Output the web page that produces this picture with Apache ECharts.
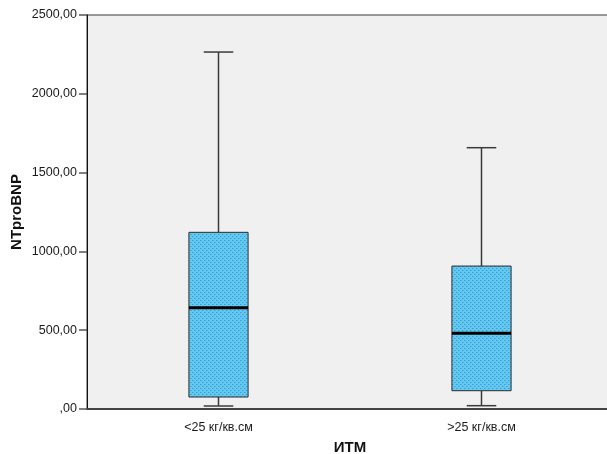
<!DOCTYPE html>
<html>
<head>
<meta charset="utf-8">
<script src="https://cdn.jsdelivr.net/npm/echarts@6/dist/echarts.min.js"></script>
<style>
  html, body { margin: 0; padding: 0; background: #ffffff; }
  #chart { width: 607px; height: 454px; }
</style>
</head>
<body>
<div id="chart"></div>
<script>
// BMI groups and NTproBNP five-number summaries
var categories = ['<25 кг/кв.см', '>25 кг/кв.см'];
var whiskerLow = [19, 21];
var q1 = [76, 116];
var median = [643, 480];
var q3 = [1121, 907];
var whiskerHigh = [2265, 1658];
var yTicks = [0, 500, 1000, 1500, 2000, 2500];

// dotted fill used for the boxes
function makePattern() {
  var c = document.createElement('canvas');
  c.width = 4; c.height = 4;
  var g = c.getContext('2d');
  g.fillStyle = '#62caf2';
  g.fillRect(0, 0, 4, 4);
  g.fillStyle = '#3f9ccd';
  g.fillRect(0, 0, 1, 1);
  g.fillRect(2, 2, 1, 1);
  g.fillStyle = '#52b5e2';
  g.fillRect(1, 0, 1, 1);
  g.fillRect(3, 2, 1, 1);
  return c;
}
var pattern = makePattern();

var seriesData = categories.map(function (c, i) {
  return [i, whiskerLow[i], q1[i], median[i], q3[i], whiskerHigh[i]];
});

function renderBox(params, api) {
  var idx = api.value(0);
  var lo = api.coord([idx, api.value(1)]);
  var b1 = api.coord([idx, api.value(2)]);
  var md = api.coord([idx, api.value(3)]);
  var b3 = api.coord([idx, api.value(4)]);
  var hi = api.coord([idx, api.value(5)]);
  var band = api.size([1, 0])[0];
  var w = band * 0.225;
  var cx = lo[0];
  var cap = w / 2;
  var lineStyle = { stroke: '#3a3a3a', lineWidth: 1.5 };
  return {
    type: 'group',
    children: [
      { type: 'line', shape: { x1: cx, y1: hi[1], x2: cx, y2: b3[1] }, style: lineStyle },
      { type: 'line', shape: { x1: cx, y1: b1[1], x2: cx, y2: lo[1] }, style: lineStyle },
      { type: 'line', shape: { x1: cx - cap / 2, y1: hi[1], x2: cx + cap / 2, y2: hi[1] }, style: lineStyle },
      { type: 'line', shape: { x1: cx - cap / 2, y1: lo[1], x2: cx + cap / 2, y2: lo[1] }, style: lineStyle },
      { type: 'rect', shape: { x: cx - w / 2, y: b3[1], width: w, height: b1[1] - b3[1] },
        style: { fill: { image: pattern, repeat: 'repeat' }, stroke: '#2e2e2e', lineWidth: 1 } },
      { type: 'line', shape: { x1: cx - w / 2, y1: md[1], x2: cx + w / 2, y2: md[1] },
        style: { stroke: '#000000', lineWidth: 3 } }
    ]
  };
}

var chart = echarts.init(document.getElementById('chart'), null, { renderer: 'canvas' });
chart.setOption({
  animation: false,
  backgroundColor: '#ffffff',
  textStyle: { fontFamily: 'Liberation Sans, Arial, sans-serif' },
  grid: {
    left: 87, top: 15, right: -6, bottom: 45,
    outerBoundsMode: 'none',
    containLabel: false,
    show: true, backgroundColor: '#f0f0f0',
    borderColor: '#7a7a7a', borderWidth: 1.5
  },
  xAxis: {
    type: 'category',
    data: categories,
    boundaryGap: true,
    name: 'ИТМ',
    nameLocation: 'middle',
    nameGap: 31,
    nameMoveOverlap: false,
    nameTextStyle: { fontSize: 15, fontWeight: 'bold', color: '#111' },
    axisLine: { lineStyle: { color: '#444', width: 2 } },
    axisTick: { alignWithLabel: true, length: 7, lineStyle: { color: '#444', width: 1.5 } },
    axisLabel: { fontSize: 12.5, color: '#1a1a1a', margin: 12 },
    splitLine: { show: false }
  },
  yAxis: {
    type: 'value',
    min: yTicks[0],
    max: yTicks[yTicks.length - 1],
    interval: yTicks[1] - yTicks[0],
    name: 'NTproBNP',
    nameLocation: 'middle',
    nameRotate: 90,
    nameGap: 63,
    nameMoveOverlap: false,
    nameTextStyle: { fontSize: 15, fontWeight: 'bold', color: '#111' },
    axisLine: { show: true, lineStyle: { color: '#111', width: 1 } },
    axisTick: { show: true, length: 8, lineStyle: { color: '#555', width: 1.5 } },
    axisLabel: {
      fontSize: 12.5, color: '#1a1a1a', margin: 10,
      formatter: function (v) { return v === 0 ? ',00' : v + ',00'; }
    },
    splitLine: { show: false }
  },
  series: [{
    type: 'custom',
    renderItem: renderBox,
    encode: { x: 0, y: [1, 2, 3, 4, 5] },
    data: seriesData
  }]
});
</script>
</body>
</html>
